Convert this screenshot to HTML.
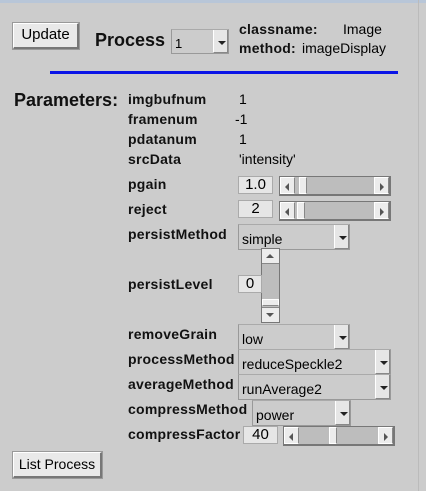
<!DOCTYPE html>
<html><head><meta charset="utf-8"><style>
*{margin:0;padding:0;box-sizing:border-box}
body{width:426px;height:491px;background:#cccccc;position:relative;overflow:hidden;font-family:"Liberation Sans",Arial,sans-serif;color:#000}
.a{position:absolute;white-space:nowrap}
.b{font-weight:bold;font-size:14px;letter-spacing:0.25px;color:#111}
.v{font-size:14px}
.btn{position:absolute;background:#e9e9e9;border:1px solid #fff;border-right:2px solid #777;border-bottom:2px solid #777;outline:1px solid #999;font-size:15px;text-align:center}
.sel{position:absolute;background:#cccccc;border:1px solid #999;border-top-color:#aaa}
.sel span{position:absolute;left:3px;top:6px;font-size:14px}
.sel i{position:absolute;right:0;top:0;bottom:0;width:15px;background:#e6e6e6;border-left:1px solid #fff;border-right:1px solid #888;border-bottom:1px solid #888}
.sel i:after{content:"";position:absolute;left:4px;top:11px;border-left:4px solid transparent;border-right:4px solid transparent;border-top:4px solid #222}
.box{position:absolute;background:#e6e6e6;border:1px solid #aaa;font-size:15px;text-align:center;line-height:16px}
.sl{position:absolute;background:#bdbdbd;border:1px solid #777;border-right-width:2px;border-bottom-width:2px}
.sl .l,.sl .r,.sl .t{position:absolute;top:0;bottom:0;background:#ececec;border:1px solid #fff;border-right-color:#888}
.sl .l{left:0;width:15px}.sl .r{right:0;width:15px}
.sl .l:after{content:"";position:absolute;left:4px;top:5px;border-top:4px solid transparent;border-bottom:4px solid transparent;border-right:4px solid #555}
.sl .r:after{content:"";position:absolute;left:5px;top:5px;border-top:4px solid transparent;border-bottom:4px solid transparent;border-left:4px solid #555}
</style></head><body>
<div class="a" style="left:0;top:0;width:426px;height:3px;background:#b8c6d8"></div>
<div class="a" style="left:418px;top:0;width:1px;height:491px;background:#bbb"></div>

<div class="btn" style="left:13px;top:23px;width:66px;height:26px;line-height:22px">Update</div>
<div class="a" style="left:95px;top:30px;font-size:18px;font-weight:bold;color:#111">Process</div>
<div class="sel" style="left:171px;top:29px;width:58px;height:25px"><span style="font-size:13px">1</span><i></i></div>
<div class="a b" style="left:239px;top:21px">classname:</div>
<div class="a v" style="left:343px;top:21px">Image</div>
<div class="a b" style="left:239px;top:40px">method:</div>
<div class="a v" style="left:302px;top:40px">imageDisplay</div>
<div class="a" style="left:50px;top:71px;width:348px;height:3px;background:#0a14e6"></div>

<div class="a" style="left:14px;top:90px;font-size:18px;font-weight:bold;color:#111">Parameters:</div>
<div class="a b" style="left:128px;top:91px">imgbufnum</div><div class="a v" style="left:239px;top:91px">1</div>
<div class="a b" style="left:128px;top:111px">framenum</div><div class="a v" style="left:235px;top:111px">-1</div>
<div class="a b" style="left:128px;top:131px">pdatanum</div><div class="a v" style="left:239px;top:131px">1</div>
<div class="a b" style="left:128px;top:151px">srcData</div><div class="a v" style="left:239px;top:151px">'intensity'</div>

<div class="a b" style="left:128px;top:176px">pgain</div>
<div class="box" style="left:238px;top:176px;width:35px;height:18px">1.0</div>
<div class="sl" style="left:279px;top:176px;width:112px;height:20px"><div class="l"></div><div class="t" style="left:19px;width:8px"></div><div class="r"></div></div>

<div class="a b" style="left:128px;top:201px">reject</div>
<div class="box" style="left:238px;top:200px;width:35px;height:18px">2</div>
<div class="sl" style="left:279px;top:201px;width:112px;height:20px"><div class="l"></div><div class="t" style="left:17px;width:8px"></div><div class="r"></div></div>

<div class="a b" style="left:128px;top:226px">persistMethod</div>
<div class="sel" style="left:238px;top:224px;width:112px;height:26px"><span>simple</span><i></i></div>

<div class="a" style="left:261px;top:248px;width:19px;height:75px;background:#bdbdbd;border:1px solid #777"></div>
<div class="a" style="left:262px;top:249px;width:17px;height:15px;background:#ececec;border-bottom:1px solid #888"><div style="position:absolute;left:4px;top:5px;border-left:4px solid transparent;border-right:4px solid transparent;border-bottom:4px solid #555"></div></div>
<div class="a" style="left:262px;top:299px;width:17px;height:7px;background:#ececec;border:1px solid #fff;border-bottom-color:#888"></div>
<div class="a" style="left:262px;top:307px;width:17px;height:15px;background:#ececec;border-top:1px solid #888"><div style="position:absolute;left:4px;top:5px;border-left:4px solid transparent;border-right:4px solid transparent;border-top:4px solid #555"></div></div>
<div class="a b" style="left:128px;top:276px">persistLevel</div>
<div class="box" style="left:238px;top:275px;width:24px;height:18px">0</div>

<div class="a b" style="left:128px;top:326px">removeGrain</div>
<div class="sel" style="left:238px;top:324px;width:112px;height:26px"><span>low</span><i></i></div>
<div class="a b" style="left:128px;top:351px">processMethod</div>
<div class="sel" style="left:238px;top:349px;width:153px;height:26px"><span>reduceSpeckle2</span><i></i></div>
<div class="a b" style="left:128px;top:376px">averageMethod</div>
<div class="sel" style="left:238px;top:374px;width:153px;height:26px"><span>runAverage2</span><i></i></div>
<div class="a b" style="left:128px;top:401px">compressMethod</div>
<div class="sel" style="left:252px;top:400px;width:99px;height:26px"><span>power</span><i></i></div>
<div class="a b" style="left:128px;top:426px">compressFactor</div>
<div class="box" style="left:243px;top:426px;width:35px;height:18px">40</div>
<div class="sl" style="left:283px;top:426px;width:112px;height:20px"><div class="l"></div><div class="t" style="left:45px;width:8px"></div><div class="r"></div></div>

<div class="btn" style="left:13px;top:452px;width:89px;height:26px;line-height:22px;font-size:14px">List Process</div>
</body></html>
